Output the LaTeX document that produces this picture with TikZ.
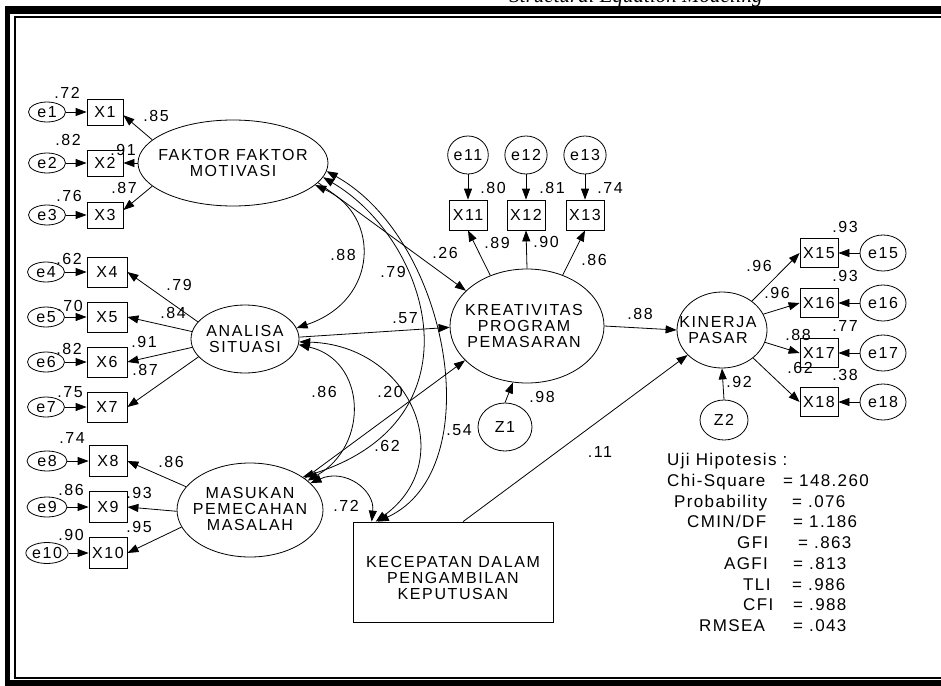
\documentclass[tikz,border=0pt]{standalone}
\usepackage{fontspec}
\setmainfont{Liberation Sans}
\newfontfamily\lbl[LetterSpace=10]{Liberation Sans}
\newfontfamily\stf[LetterSpace=8]{Liberation Sans}
\newfontfamily\ttl{Liberation Serif}
\usetikzlibrary{shapes.geometric,arrows.meta,calc}
\tikzset{
  lat/.style={ellipse, draw, inner sep=0pt, line width=0.8pt},
  obs/.style={rectangle, draw, inner sep=0pt, minimum width=38pt, minimum height=29pt, line width=0.8pt, font=\lbl\fontsize{16}{18}\selectfont},
  err/.style={ellipse, draw, inner sep=0pt, minimum width=37pt, minimum height=20pt, line width=0.8pt, font=\lbl\fontsize{16}{18}\selectfont},
  lab/.style={inner sep=0pt, font=\lbl\fontsize{16}{18}\selectfont},
  biglab/.style={inner sep=0pt, align=center, font=\lbl\fontsize{16}{16}\selectfont},
  st/.style={inner sep=0pt, anchor=base west, font=\stf\fontsize{17}{19}\selectfont},
  pth/.style={-{Triangle[length=11pt,width=8pt]}, line width=0.8pt},
  cov/.style={{Triangle[length=11pt,width=8pt]}-{Triangle[length=11pt,width=8pt]}, line width=0.8pt},
}
\begin{document}
\begin{tikzpicture}[x=1pt,y=-1pt]
\useasboundingbox (0,0) rectangle (941,685);
\clip (0,0) rectangle (941,685);
\fill[white] (0,0) rectangle (941,685);
% frame
\fill[black] (5,6) rectangle (10,690);
\fill[black] (5,6) rectangle (950,14);
\fill[black] (5,680) rectangle (950,690);
\draw[line width=1.5pt] (15,17) rectangle (950,678);
% title (cut off at the top)
\node[font=\ttl\itshape\fontsize{21}{21}\selectfont, anchor=base, inner sep=0pt] (title) at (636,2.5) {Structural Equation Modeling};

% ---------- latent variables ----------
\node[lat, minimum width=190pt, minimum height=86pt,
  label={[biglab]center:{\fontsize{16}{17}\selectfont FAKTOR FAKTOR\\MOTIVASI}}] (F) at (233,163) {};
\node[lat, minimum width=108pt, minimum height=68pt,
  label={[biglab]center:ANALISA\\SITUASI}] (A) at (245,339) {};
\node[lat, minimum width=146pt, minimum height=94pt,
  label={[biglab,yshift=1pt]center:MASUKAN\\PEMECAHAN\\MASALAH}] (M) at (250,510) {};
\node[lat, minimum width=154pt, minimum height=114pt,
  label={[biglab,xshift=-3pt]center:KREATIVITAS\\PROGRAM\\PEMASARAN}] (K) at (527,326) {};
\node[lat, minimum width=90pt, minimum height=76pt,
  label={[biglab,xshift=-4pt]center:KINERJA\\PASAR}] (KP) at (722,330) {};
\node[rectangle, draw, line width=0.8pt, inner sep=0pt, minimum width=200pt, minimum height=100pt,
  label={[biglab,yshift=-6pt]center:{\fontsize{16}{16.5}\selectfont KECEPATAN DALAM\\PENGAMBILAN\\KEPUTUSAN}}] (KC) at (453,572) {};
\node[lat, minimum width=54pt, minimum height=48pt, font=\lbl\fontsize{16}{18}\selectfont] (Z1) at (505,427) {Z1};
\node[lat, minimum width=48pt, minimum height=40pt, font=\lbl\fontsize{16}{18}\selectfont] (Z2) at (724,420) {Z2};

% ---------- indicators left ----------
\node[err] (e1) at (47,112) {e1};
\node[obs, minimum width=36pt, minimum height=26pt] (X1) at (105,112) {X1};
\node[err] (e2) at (47,163) {e2};
\node[obs, minimum width=36pt, minimum height=26pt] (X2) at (105,163) {X2};
\node[err] (e3) at (47,215) {e3};
\node[obs, minimum width=36pt, minimum height=26pt] (X3) at (105,215) {X3};

\node[err] (e4) at (46,272) {e4};
\node[obs, minimum width=40pt, minimum height=30pt] (X4) at (107,272) {X4};
\node[err] (e5) at (46,317) {e5};
\node[obs, minimum width=40pt, minimum height=30pt] (X5) at (107,317) {X5};
\node[err] (e6) at (46,362) {e6};
\node[obs, minimum width=40pt, minimum height=30pt] (X6) at (107,362) {X6};
\node[err] (e7) at (46,407) {e7};
\node[obs, minimum width=40pt, minimum height=30pt] (X7) at (107,407) {X7};

\node[err, minimum width=40pt] (e8) at (47,461) {e8};
\node[obs, minimum width=38pt, minimum height=31pt] (X8) at (108,461) {X8};
\node[err, minimum width=40pt] (e9) at (47,507) {e9};
\node[obs, minimum width=38pt, minimum height=31pt] (X9) at (108,507) {X9};
\node[err, minimum width=41pt, minimum height=21pt] (e10) at (47,553) {e10};
\node[obs, minimum width=38pt, minimum height=31pt] (X10) at (108,553) {X10};

% ---------- indicators KREATIVITAS ----------
\node[lat, minimum width=38pt, minimum height=38pt, font=\lbl\fontsize{16}{18}\selectfont] (e11) at (468,155) {e11};
\node[lat, minimum width=38pt, minimum height=38pt, font=\lbl\fontsize{16}{18}\selectfont] (e12) at (526,155) {e12};
\node[lat, minimum width=38pt, minimum height=38pt, font=\lbl\fontsize{16}{18}\selectfont] (e13) at (585,155) {e13};
\node[obs, minimum height=30pt] (X11) at (468,215) {X11};
\node[obs, minimum height=30pt] (X12) at (526,215) {X12};
\node[obs, minimum height=30pt] (X13) at (585,215) {X13};

% ---------- indicators KINERJA ----------
\node[obs] (X15) at (819,253) {X15};
\node[obs] (X16) at (819,303) {X16};
\node[obs] (X17) at (819,353) {X17};
\node[obs] (X18) at (819,402) {X18};
\node[err, minimum width=46pt, minimum height=36pt] (e15) at (883,253) {e15};
\node[err, minimum width=46pt, minimum height=36pt] (e16) at (883,303) {e16};
\node[err, minimum width=46pt, minimum height=36pt] (e17) at (883,353) {e17};
\node[err, minimum width=46pt, minimum height=36pt] (e18) at (883,402) {e18};

% ---------- error arrows ----------
\foreach \i in {1,...,10} { \draw[pth] (e\i) -- (X\i); }
\foreach \i in {11,12,13} { \draw[pth] (e\i.south) -- (X\i.north); }
\foreach \i in {15,16,17,18} { \draw[pth] (e\i.west) -- (X\i.east); }

% ---------- loadings ----------
\draw[pth] (F.164) -- (X1.-10);
\draw[pth] (F.180) -- (X2.east);
\draw[pth] (F.196) -- (X3.15);
\draw[pth] (A.160) -- (X4.east);
\draw[pth] (A.172) -- (X5.east);
\draw[pth] (A.189) -- (X6.east);
\draw[pth] (A.201) -- (X7.east);
\draw[pth] (M.160) -- (X8.east);
\draw[pth] (M.181) -- (X9.east);
\draw[pth] (M.194) -- (X10.east);
\draw[pth] (K.126) -- (X11.south);
\draw[pth] (K.90) -- (X12.south);
\draw[pth] (K.55) -- (X13.south);
\draw[pth] (KP.44) -- (X15.west);
\draw[pth] (KP.21) -- (X16.west);
\draw[pth] (KP.344) -- (X17.west);
\draw[pth] (KP.318) -- (X18.west);

% ---------- structural paths ----------
\draw[pth] (Z1.north) -- (K.256);
\draw[pth] (Z2.north) -- (KP.south);
\draw[pth] (F.-13) -- (K.150);
\draw[pth] (A.2) -- (K.181);
\draw[pth] (M.30) -- (K.209);
\draw[pth] (K.east) -- (KP.west);
\coordinate (kcp) at ($(KC.north west)!0.55!(KC.north east)$);
\draw[pth] (kcp) -- (KP.216);

% ---------- covariances ----------
\coordinate (kc1) at ($(KC.north west)!0.125!(KC.north east)$);
\coordinate (kc2) at ($(KC.north west)!0.115!(KC.north east)$);
\coordinate (kc3) at ($(KC.north west)!0.095!(KC.north east)$);
\draw[cov] (F.-15) .. controls (380,215) and (380,300) .. (A.12);
\draw[cov] (A.-6) .. controls (366,360) and (370,445) .. (M.27);
\draw[cov] (F.-9) .. controls (430,240) and (485,420) .. (M.32);
\draw[cov] (F.-5) .. controls (450,240) and (490,470) .. (kc1);
\draw[cov] (A.-3) .. controls (410,345) and (460,460) .. (kc2);
\draw[cov] (M.24) .. controls (345,468) and (375,490) .. (kc3);

% ---------- coefficient labels ----------
\node[lab] (l1) at (67,93) {.72};
\node[lab] (l2) at (156,116) {.85};
\node[lab] (l3) at (68,140) {.82};
\node[lab] (l4) at (123,150) {.91};
\node[lab] (l5) at (69,196) {.76};
\node[lab] (l6) at (124,188) {.87};
\node[lab] (l7) at (69,259) {.62};
\node[lab] (l8) at (179,285) {.79};
\node[lab] (l9) at (70,306) {.70};
\node[lab] (l10) at (173,313) {.84};
\node[lab] (l11) at (69,349) {.82};
\node[lab] (l12) at (144,342) {.91};
\node[lab] (l13) at (145,370) {.87};
\node[lab] (l14) at (70,392) {.75};
\node[lab] (l15) at (72,438) {.74};
\node[lab] (l16) at (171,462) {.86};
\node[lab] (l17) at (71,490) {.86};
\node[lab] (l18) at (139,493) {.93};
\node[lab] (l19) at (71,535) {.90};
\node[lab] (l20) at (139,527) {.95};
\node[lab] (l21) at (346,506) {.72};
\node[lab] (l22) at (387,446) {.62};
\node[lab] (l23) at (493,188) {.80};
\node[lab] (l24) at (552,188) {.81};
\node[lab] (l25) at (610,188) {.74};
\node[lab] (l26) at (497,243) {.89};
\node[lab] (l27) at (546,242) {.90};
\node[lab] (l28) at (594,260) {.86};
\node[lab] (l29) at (445,253) {.26};
\node[lab] (l30) at (393,272) {.79};
\node[lab] (l31) at (343,255) {.88};
\node[lab] (l32) at (405,318) {.57};
\node[lab] (l33) at (324,392) {.86};
\node[lab] (l34) at (390,392) {.20};
\node[lab] (l35) at (542,397) {.98};
\node[lab] (l36) at (459,430) {.54};
\node[lab] (l37) at (600,452) {.11};
\node[lab] (l38) at (640,314) {.88};
\node[lab] (l39) at (759,266) {.96};
\node[lab] (l40) at (777,293) {.96};
\node[lab] (l41) at (845,227) {.93};
\node[lab] (l42) at (845,276) {.93};
\node[lab] (l43) at (845,326) {.77};
\node[lab] (l44) at (845,375) {.38};
\node[lab] (l45) at (798,335) {.88};
\node[lab] (l46) at (800,368) {.62};
\node[lab] (l47) at (739,382) {.92};

% ---------- fit statistics ----------
\node[st] (s0) at (667,465) {Uji Hipotesis :};
\node[st] (s1) at (667,486) {Chi-Square};
\node[st] (s1v) at (783,486) {= 148.260};
\node[st] (s2) at (674,507) {Probability};
\node[st] (s2v) at (792,507) {= .076};
\node[st] (s3) at (687,527) {CMIN/DF};
\node[st] (s3v) at (793,527) {= 1.186};
\node[st] (s4) at (737,548) {GFI};
\node[st] (s4v) at (798,548) {= .863};
\node[st] (s5) at (724,569) {AGFI};
\node[st] (s5v) at (793,569) {= .813};
\node[st] (s6) at (743,590) {TLI};
\node[st] (s6v) at (792,590) {= .986};
\node[st] (s7) at (743,610) {CFI};
\node[st] (s7v) at (793,610) {= .988};
\node[st] (s8) at (699,631) {RMSEA};
\node[st] (s8v) at (793,631) {= .043};
\end{tikzpicture}
\end{document}
